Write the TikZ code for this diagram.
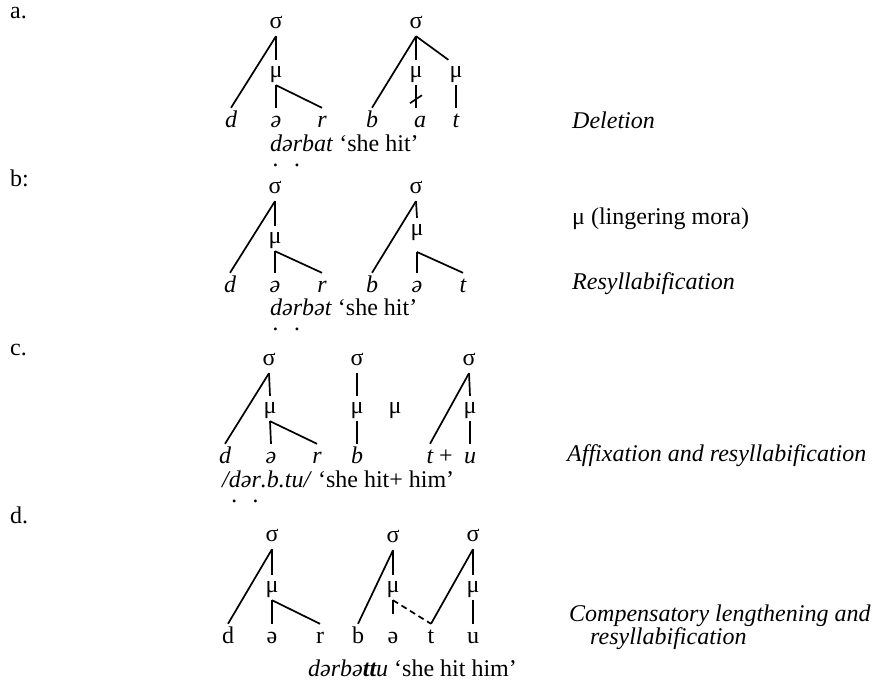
\documentclass[tikz,border=0pt]{standalone}
\usepackage{fontspec}
\setmainfont{Liberation Serif}
\usetikzlibrary{calc}
% letter with a detached dot set well below it (emphatic consonants)
\newcommand\lowdot[1]{\ooalign{#1\cr\hidewidth\raisebox{-15pt}{.}\hidewidth\cr}}

\begin{document}
\begin{tikzpicture}[x=1pt,y=-1pt,
  every node/.style={font=\fontsize{24}{28}\selectfont, inner sep=0pt},
  gk/.style={anchor=base, text height=11pt, text depth=2pt, inner ysep=6pt, inner xsep=1pt},
  seg/.style={anchor=base, text height=15pt, text depth=5pt, inner ysep=4pt, inner xsep=0pt,
              font=\fontsize{24}{28}\selectfont\itshape},
  segr/.style={seg, font=\fontsize{24}{28}\selectfont\upshape},
  txt/.style={anchor=base west},
  it/.style={txt, font=\fontsize{24}{28}\selectfont\itshape},
  link/.style={line width=1.7pt},
  dlink/.style={link, dash pattern=on 6pt off 4pt},
]
\useasboundingbox (0,0) rectangle (872,681);

% ---------- panel labels ----------
\node[txt] (pa) at (10,18) {a.};
\node[txt] (pb) at (10,186) {b:};
\node[txt] (pc) at (10,355) {c.};
\node[txt] (pd) at (10,523) {d.};

% ---------- (a) deletion ----------
\node[gk] (aS1) at (276,28) {σ};
\node[gk] (aM1) at (276,77) {μ};
\node[seg] (ad) at (231,127) {d};
\node[seg] (ae) at (276,127) {ə};
\node[seg] (ar) at (322,127) {r};
\node[gk] (aS2) at (416,28) {σ};
\node[gk] (aM2) at (416,77) {μ};
\node[gk] (aM3) at (456,77) {μ};
\node[seg] (ab) at (372,127) {b};
\node[seg] (aa) at (420,127) {a};
\node[seg] (aTt) at (456,127) {t};
\draw[link] (aS1.south) -- (ad.north);
\draw[link] (aS1.south) -- (aM1.north);
\draw[link] (aM1.south) -- (ae.north);
\draw[link] (aM1.south) -- (ar.north);
\draw[link] (aS2.south) -- (ab.north);
\draw[link] (aS2.south) -- (aM2.north);
\draw[link] (aS2.south) -- (aM3.north west);
\draw[link] (aM2.south) -- coordinate[pos=0.62] (acut) (aM2.south |- aa.north);
\draw[link] ($(acut)+(-6,4)$) -- ($(acut)+(6,-4)$);
\draw[link] (aM3.south) -- (aTt.north);
\node[txt] (capA) at (270,151) {\textit{\lowdot{d}ə\lowdot{r}bat} ‘she hit’};
\node[it] (lA) at (572,128) {Deletion};

% ---------- (b) lingering mora, resyllabification ----------
\node[gk] (bS1) at (275,193) {σ};
\node[gk] (bM1) at (275,243) {μ};
\node[seg] (bd) at (230,292) {d};
\node[seg] (be1) at (275,292) {ə};
\node[seg] (br) at (322,292) {r};
\node[gk] (bS2) at (416,193) {σ};
\node[gk] (bM2) at (417,235) {μ};
\coordinate (bK) at (417,252);
\node[seg] (bb) at (372,292) {b};
\node[seg] (be2) at (417,292) {ə};
\node[seg] (bt) at (463,292) {t};
\draw[link] (bS1.south) -- (bd.north);
\draw[link] (bS1.south) -- (bM1.north);
\draw[link] (bM1.south) -- (be1.north);
\draw[link] (bM1.south) -- (br.north);
\draw[link] (bS2.south) -- (bb.north);
\draw[link] (bS2.south) -- (bM2.north);
\draw[link] (bK) -- (be2.north);
\draw[link] (bK) -- (bt.north);
\node[txt] (capB) at (270,315) {\textit{\lowdot{d}ə\lowdot{r}bət} ‘she hit’};
\node[txt] (lB1) at (572,224) {μ (lingering mora)};
\node[it] (lB2) at (572,289) {Resyllabification};

% ---------- (c) affixation ----------
\node[gk] (cS1) at (269,365) {σ};
\node[gk] (cM1) at (270,413) {μ};
\node[seg] (cd) at (225,463) {d};
\node[seg] (ce) at (271,463) {ə};
\node[seg] (cr) at (317,463) {r};
\node[gk] (cS2) at (357,365) {σ};
\node[gk] (cM2) at (357,413) {μ};
\node[seg] (cb) at (357,463) {b};
\node[gk] (cM3) at (395,413) {μ};
\node[gk] (cS3) at (469,365) {σ};
\node[gk] (cM4) at (470,413) {μ};
\node[seg] (ct) at (430,463) {t};
\node[anchor=base] (cplus) at (446,463) {+};
\node[seg] (cu) at (470,463) {u};
\draw[link] (cS1.south) -- (cd.north);
\draw[link] (cS1.south) -- (cM1.north);
\draw[link] (cM1.south) -- (ce.north);
\draw[link] (cM1.south) -- (cr.north);
\draw[link] (cS2.south) -- (cM2.north);
\draw[link] (cM2.south) -- (cb.north);
\draw[link] (cS3.south) -- (ct.north);
\draw[link] (cS3.south) -- (cM4.north);
\draw[link] (cM4.south) -- (cu.north);
\node[txt] (capC) at (222,487) {\textit{/\lowdot{d}ə\lowdot{r}.b.tu/} ‘she hit+ him’};
\node[it] (lC) at (567,461) {Affixation and resyllabification};

% ---------- (d) compensatory lengthening ----------
\node[gk] (dS1) at (272,541) {σ};
\node[gk] (dM1) at (272,592) {μ};
\node[segr] (dd) at (228,643) {d};
\node[segr] (de1) at (272,643) {ə};
\node[segr] (dr) at (320,643) {r};
\node[gk] (dS2) at (393,542) {σ};
\node[gk] (dM2) at (393,592) {μ};
\coordinate (dK) at (393,614);
\node[segr] (db) at (358,643) {b};
\node[segr] (de2) at (393,643) {ə};
\node[segr] (dt) at (431,643) {t};
\node[gk] (dS3) at (473,541) {σ};
\node[gk] (dM3) at (473,592) {μ};
\node[segr] (du) at (473,643) {u};
\draw[link] (dS1.south) -- (dd.north);
\draw[link] (dS1.south) -- (dM1.north);
\draw[link] (dM1.south) -- (de1.north);
\draw[link] (dM1.south) -- (dr.north);
\draw[link] (dS2.south) -- (db.north);
\draw[link] (dS2.south) -- (dM2.north);
\draw[link] (dM2.south) -- (dK);
\draw[dlink] (dM2.south) -- (dt.north);
\draw[link] (dS3.south) -- (dt.north);
\draw[link] (dS3.south) -- (dM3.north);
\draw[link] (dM3.south) -- (du.north);
\node[txt] (capD) at (308,676) {\textit{dərbə\textbf{tt}u} ‘she hit him’};
\node[it] (lD1) at (569,621) {Compensatory lengthening and};
\node[it] (lD2) at (590,644) {resyllabification};
\end{tikzpicture}
\end{document}
